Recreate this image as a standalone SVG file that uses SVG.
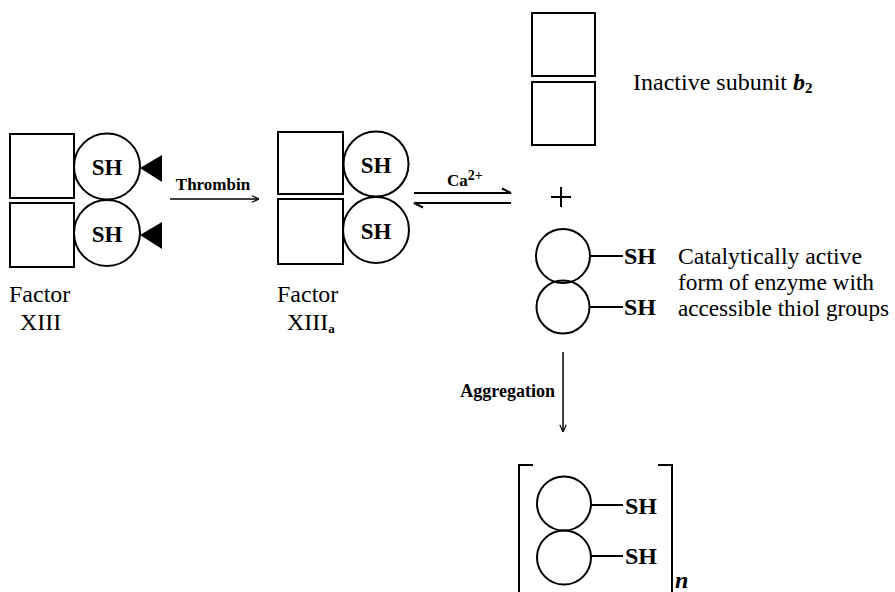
<svg xmlns="http://www.w3.org/2000/svg" width="895" height="592" viewBox="0 0 895 592">
<defs>
<style>
.s{fill:none;stroke:#000;stroke-width:2}
.t{font-family:"Liberation Serif","Times New Roman",serif;fill:#000}
.b{font-weight:bold}
.f{font-size:24px}
.sh{font-size:23px;font-weight:bold;text-anchor:middle}
</style>
<marker id="ah" viewBox="0 0 10 10" refX="10" refY="5" markerWidth="8" markerHeight="8" orient="auto" markerUnits="userSpaceOnUse">
<path d="M1,1 L10,5 L1,9" fill="none" stroke="#000" stroke-width="1.5"/>
</marker>
</defs>
<rect width="895" height="592" fill="#fff"/>

<g id="factor13">
<rect class="s" x="10" y="134" width="64" height="64"/>
<rect class="s" x="10" y="203" width="64" height="64"/>
<circle class="s" cx="107" cy="166.5" r="33"/>
<circle class="s" cx="107" cy="233" r="33"/>
<text class="t sh" x="107" y="175">SH</text>
<text class="t sh" x="107" y="242">SH</text>
<polygon points="140,168 162,155 162,182"/>
<polygon points="140,235 162,222 162,249"/>
<text class="t f" x="9" y="302">Factor</text>
<text class="t f" x="20" y="330">XIII</text>
</g>

<g id="factor13a">
<rect class="s" x="278" y="132" width="65" height="62"/>
<rect class="s" x="278" y="199" width="65" height="65"/>
<circle class="s" cx="376" cy="164" r="32.5"/>
<circle class="s" cx="376" cy="230" r="33"/>
<text class="t sh" x="376" y="173">SH</text>
<text class="t sh" x="376" y="239">SH</text>
<text class="t f" x="277" y="302">Factor</text>
<text class="t f" x="287" y="330">XIII<tspan font-size="13" font-weight="bold" dy="3">a</tspan></text>
</g>

<g id="subunit-b2">
<rect class="s" x="532" y="13" width="63" height="63"/>
<rect class="s" x="532" y="82" width="63" height="63"/>
<text class="t f" x="633" y="90">Inactive subunit <tspan font-style="italic" font-weight="bold">b</tspan><tspan font-size="15" font-weight="bold" dy="3">2</tspan></text>
</g>

<g id="plus">
<path class="s" d="M561,187 V207 M551,197 H571"/>
</g>

<g id="active-enzyme">
<circle class="s" cx="563" cy="256" r="27"/>
<circle class="s" cx="563" cy="307" r="26.5"/>
<path class="s" d="M590,256 H623 M589.5,307 H623"/>
<text class="t f b" x="624" y="264">SH</text>
<text class="t f b" x="624" y="315">SH</text>
<text class="t f" x="678" y="264" textLength="184" lengthAdjust="spacingAndGlyphs">Catalytically active</text>
<text class="t f" x="678" y="290" textLength="196" lengthAdjust="spacingAndGlyphs">form of enzyme with</text>
<text class="t f" x="678" y="316" textLength="211" lengthAdjust="spacingAndGlyphs">accessible thiol groups</text>
</g>

<g id="aggregate">
<path class="s" d="M533,465 H519 V592 M658,465 H672 V592"/>
<circle class="s" cx="564" cy="503.5" r="27"/>
<circle class="s" cx="564" cy="557.5" r="27"/>
<path class="s" d="M591,505 H623 M591,556 H623"/>
<text class="t f b" x="625" y="514">SH</text>
<text class="t f b" x="625" y="564">SH</text>
<text class="t b" font-size="24" font-style="italic" x="675" y="588">n</text>
</g>

<g id="connectors">
<line x1="170" y1="199" x2="259" y2="199" stroke="#000" stroke-width="1.5" marker-end="url(#ah)"/>
<text class="t b" font-size="17" x="213" y="190" text-anchor="middle">Thrombin</text>
<path d="M414,193 H511 L502,188.5" fill="none" stroke="#000" stroke-width="2"/>
<path d="M511,203 H414 L423,207.5" fill="none" stroke="#000" stroke-width="2"/>
<text class="t b" font-size="17" x="447" y="186">Ca<tspan font-size="14" dy="-6">2+</tspan></text>
<line x1="563" y1="352" x2="563" y2="432" stroke="#000" stroke-width="1.5" marker-end="url(#ah)"/>
<text class="t b" font-size="18" x="555" y="397" text-anchor="end">Aggregation</text>
</g>
</svg>
